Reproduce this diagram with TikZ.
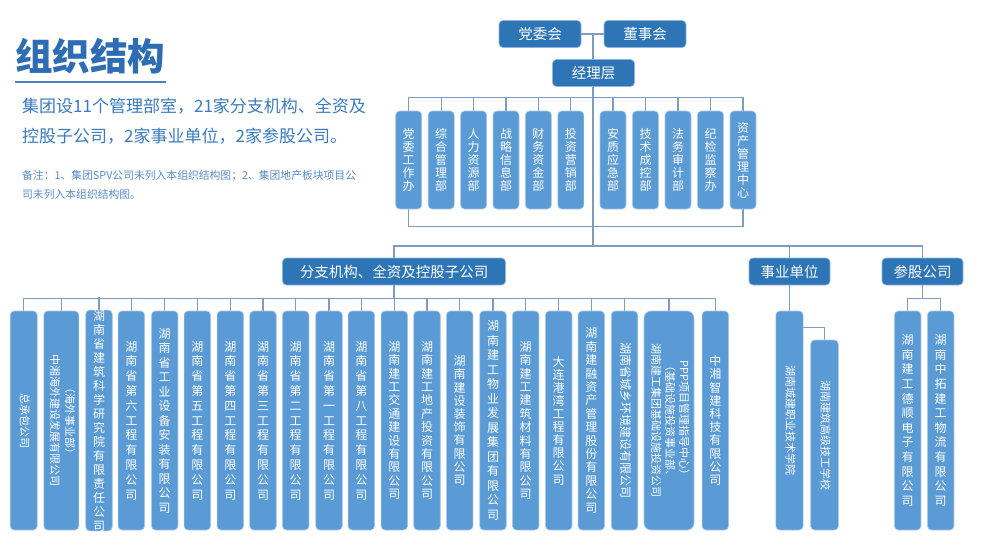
\documentclass[tikz,border=0pt]{standalone}
\usepackage{fontspec}
\setmainfont{Noto Sans CJK SC}
\usepackage{graphicx}
\usetikzlibrary{backgrounds}
\definecolor{lb}{HTML}{5B9BD5}
\definecolor{lbd}{HTML}{A9C8EA}
\definecolor{db}{HTML}{2E75B6}
\definecolor{dbd}{HTML}{8DB4E2}
\definecolor{lnc}{HTML}{7F9CC0}
\definecolor{ttc}{HTML}{2E6DB4}
\definecolor{ptc}{HTML}{3B7BBE}
\definecolor{ntc}{HTML}{5A8CC6}
\definecolor{ulc}{HTML}{4E80BC}
\makeatletter
\newcommand\vtext[2]{\vbox{\baselineskip=#1pt\lineskiplimit=-100pt\lineskip=0pt\@tfor\vt@c:=#2\do{\hbox{\vt@c}}}}
\makeatother
\newcommand\rtext[3][11]{\rotatebox{-90}{\fontsize{#1}{#2}\selectfont\begin{tabular}{@{}c@{}}#3\end{tabular}}}
\tikzset{
  lbox/.style={fill=lb, draw=lbd, line width=0.6pt, rounded corners=4pt, text=white, inner sep=0pt},
  dbox/.style={fill=db, draw=dbd, line width=0.6pt, rounded corners=4pt, text=white, inner sep=0pt,
    minimum height=27pt, font=\fontsize{14.5}{14.5}\selectfont},
  dept/.style={lbox, minimum width=26pt, minimum height=98pt, font=\fontsize{12}{13}\selectfont},
  bbox/.style={lbox, minimum width=26.5pt, minimum height=219pt, font=\fontsize{12}{14}\selectfont},
  conn/.style={draw=lnc, line width=1.2pt}
}
\begin{document}
\begin{tikzpicture}[x=1pt,y=-1pt]
\useasboundingbox (0,0) rectangle (991,547);

% title and intro
\node[anchor=west, text=ttc, font=\fontsize{37.5}{37.5}\selectfont\bfseries, inner sep=0pt] (title) at (15,56) {组织结构};
\draw[draw=ulc, line width=2pt] (15,82) -- (166,82);
\node[anchor=west, text=ptc, font=\fontsize{17}{30.5}\selectfont, align=left, inner sep=0pt] (intro) at (22,121.3)
  {集团设11个管理部室，21家分支机构、全资及\\控股子公司，2家事业单位，2家参股公司。};
\node[anchor=west, text=ntc, font=\fontsize{10.8}{18.5}\selectfont, align=left, inner sep=0pt] (note) at (22,185)
  {备注：1、集团SPV公司未列入本组织结构图；2、集团地产板块项目公\\司未列入本组织结构图。};

% top
\node[dbox, minimum width=82pt] (pw) at (540,34) {党委会};
\node[dbox, minimum width=82pt] (ds) at (645,34) {董事会};
\node[dbox, minimum width=82pt] (jl) at (593.5,73) {经理层};
\coordinate (j0) at (593,34);
\coordinate (jm) at (593,246);

% departments
\node[dept] (d1) at (408.7,160) {\vtext{13}{党委工作办}};
\node[dept] (d2) at (441.2,160) {\vtext{13}{综合管理部}};
\node[dept] (d3) at (473.6,160) {\vtext{13}{人力资源部}};
\node[dept] (d4) at (506,160) {\vtext{13}{战略信息部}};
\node[dept] (d5) at (538.4,160) {\vtext{13}{财务资金部}};
\node[dept] (d6) at (570.8,160) {\vtext{13}{投资营销部}};
\node[dept] (d7) at (613,160) {\vtext{13}{安质应急部}};
\node[dept] (d8) at (645.5,160) {\vtext{13}{技术成控部}};
\node[dept] (d9) at (678,160) {\vtext{13}{法务审计部}};
\node[dept] (d10) at (710.5,160) {\vtext{13}{纪检监察办}};
\node[dept] (d11) at (743,160) {\vtext{13}{资产管理中心}};

% middle
\node[dbox, minimum width=223pt] (fz) at (394,271.5) {分支机构、全资及控股子公司};
\node[dbox, minimum width=81pt] (sy) at (789.5,271.5) {事业单位};
\node[dbox, minimum width=81pt] (cg) at (922.5,271.5) {参股公司};

% bottom companies
\node[bbox, minimum width=27pt] (b1) at (23.7,420.5) {\rtext{11}{总承包公司}};
\node[bbox, minimum width=35pt] (b2) at (61.3,420.5) {\rtext{15}{（海外事业部）\\中湘海外建设发展有限公司}};
\node[bbox] (b3) at (99,420.5) {\vtext{14}{湖南省建筑科学研究院有限责任公司}};
\node[bbox] (b4) at (131.3,420.5) {\vtext{14.8}{湖南省第六工程有限公司}};
\node[bbox] (b5) at (164.7,420.5) {\vtext{14.5}{湖南省工业设备安装有限公司}};
\node[bbox] (b6) at (197.3,420.5) {\vtext{14.8}{湖南省第五工程有限公司}};
\node[bbox] (b7) at (230.3,420.5) {\vtext{14.8}{湖南省第四工程有限公司}};
\node[bbox] (b8) at (263,420.5) {\vtext{14.8}{湖南省第三工程有限公司}};
\node[bbox] (b9) at (295.7,420.5) {\vtext{14.8}{湖南省第二工程有限公司}};
\node[bbox] (b10) at (329,420.5) {\vtext{14.8}{湖南省第一工程有限公司}};
\node[bbox] (b11) at (361.3,420.5) {\vtext{14.8}{湖南省第八工程有限公司}};
\node[bbox] (b12) at (394.3,420.5) {\vtext{13.4}{湖南建工交通建设有限公司}};
\node[bbox] (b13) at (427,420.5) {\vtext{13.4}{湖南建工地产投资有限公司}};
\node[bbox] (b14) at (459.7,420.5) {\vtext{13.2}{湖南建设装饰有限公司}};
\node[bbox] (b15) at (493,420.5) {\vtext{14.5}{湖南建工物业发展集团有限公司}};
\node[bbox] (b16) at (525.7,420.5) {\vtext{13.4}{湖南建工建筑材料有限公司}};
\node[bbox] (b17) at (558.7,420.5) {\vtext{13.1}{大连港湾工程有限公司}};
\node[bbox] (b18) at (591.3,420.5) {\vtext{13.4}{湖南建融资产管理股份有限公司}};
\node[bbox] (b19) at (624.5,420.5) {\rtext[12]{12}{湖南省城乡环境建设有限公司}};
\node[bbox, minimum width=50pt, rounded corners=7pt] (b20) at (669,420.5) {\rtext{14}{PPP项目管理指导中心）\\（基础设施投资事业部、\\湖南建工集团基础设施投资公司}};
\node[bbox] (b21) at (715.3,420.5) {\vtext{13.2}{中湘智建科技有限公司}};

% schools
\node[bbox, minimum width=27.3pt] (s1) at (789.5,420.5) {\rtext{11}{湖南城建职业技术学院}};
\node[bbox, minimum width=27.6pt, minimum height=190pt] (s2) at (824.5,435) {\rtext{11}{湖南建筑高级技工学校}};

% shareholding
\node[bbox] (c1) at (907.7,420.5) {\vtext{14.6}{湖南建工德顺电子有限公司}};
\node[bbox] (c2) at (940.7,420.5) {\vtext{14.6}{湖南中拓建工物流有限公司}};

\begin{pgfonlayer}{background}
  \fill[white] (0,0) rectangle (991,547);
  \draw[conn] (pw.east) -- (ds.west);
  \draw[conn] (j0) -- (jm);
  \draw[conn] (d1.north) -- ++(0,-13) -| (d11.north);
  \foreach \i in {2,...,10} \draw[conn] (d\i.north) -- ++(0,-13);
  \draw[conn] (d1.south) -- ++(0,17) -| (d11.south);
  \draw[conn] (fz.north) |- (jm) -| (cg.north);
  \draw[conn] (jm) -| (sy.north);
  \draw[conn] (fz.south) -- ++(0,13) coordinate (bb);
  \draw[conn] (b1.north) |- (bb) -| (b21.north);
  \foreach \i in {2,...,20} \draw[conn] (b\i.north) -- ++(0,-13);
  \draw[conn] (sy.south) -- (s1.north);
  \draw[conn] (s1.north east) ++(0,17) -| (s2.north);
  \draw[conn] (cg.south) -- ++(0,13) coordinate (cb);
  \draw[conn] (c1.north) |- (cb) -| (c2.north);
\end{pgfonlayer}
\end{tikzpicture}
\end{document}
